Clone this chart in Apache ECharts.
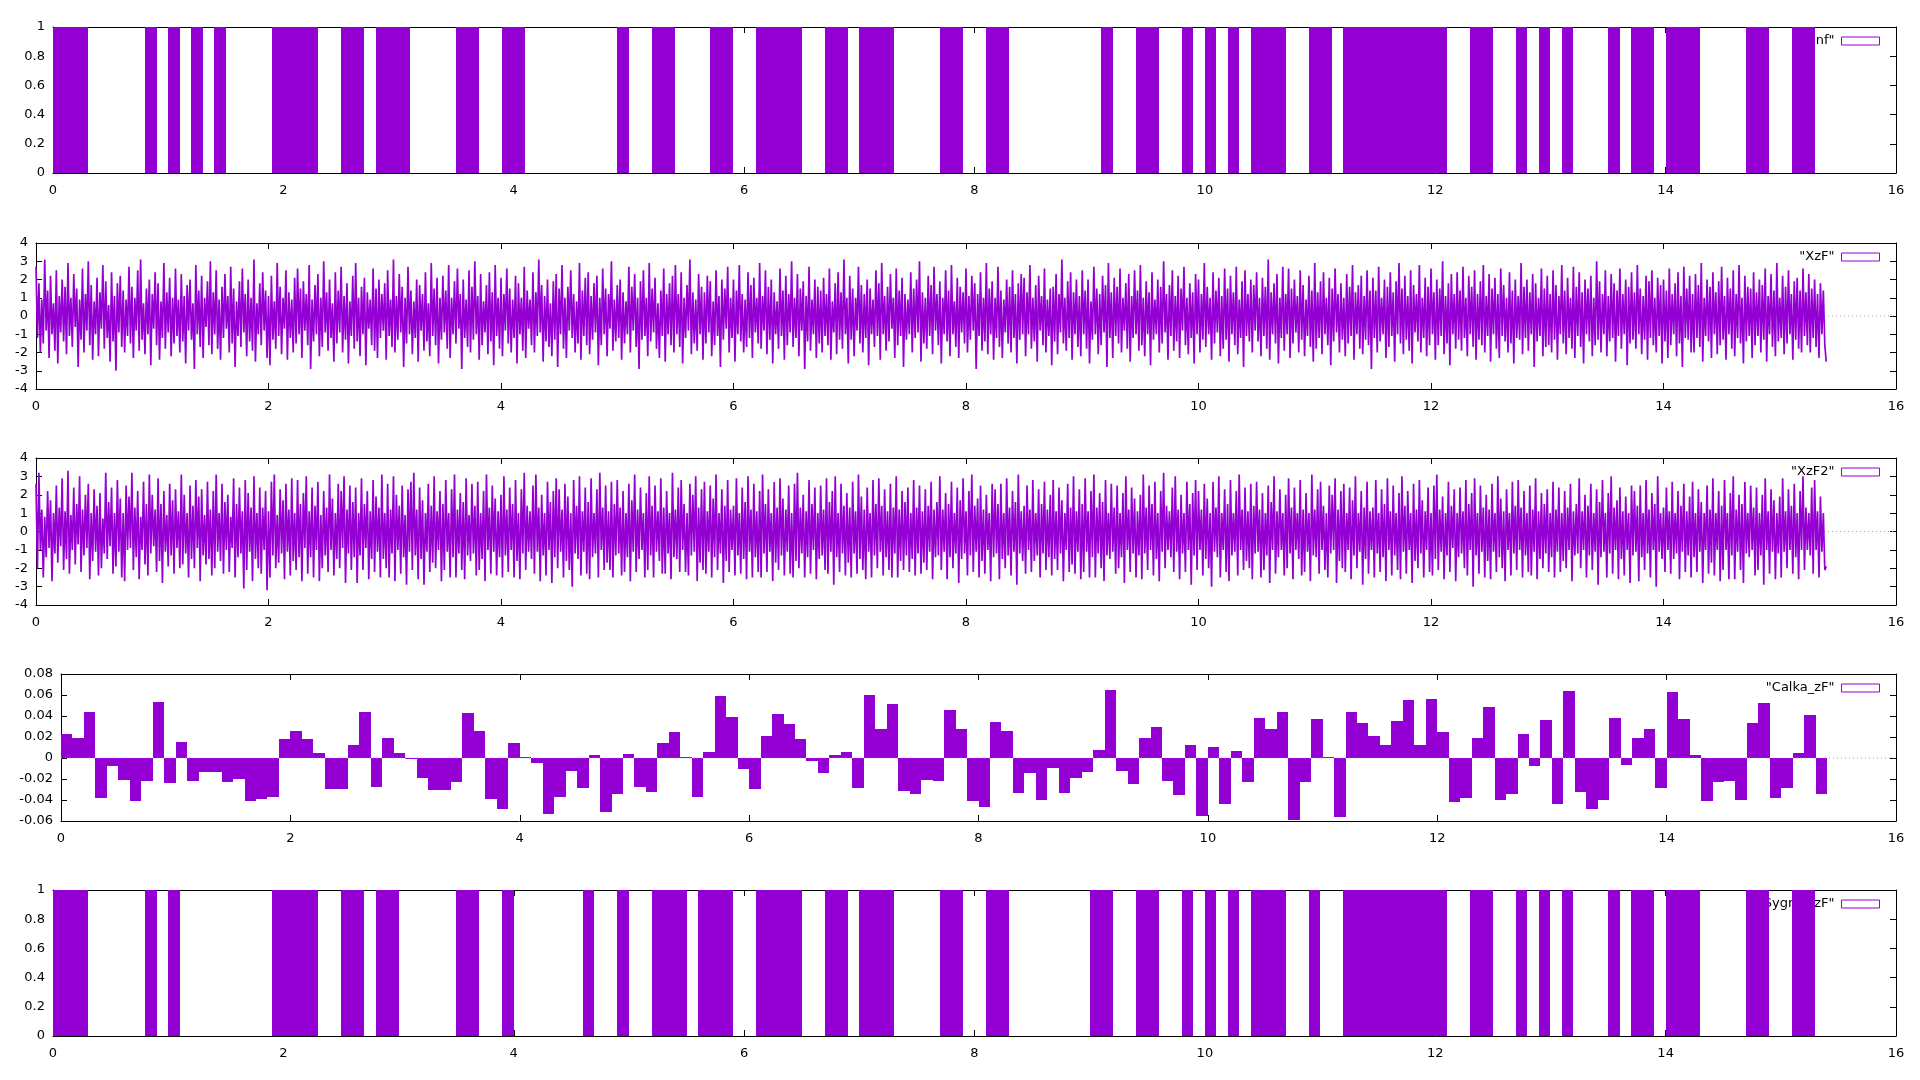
<!DOCTYPE html>
<html><head><meta charset="utf-8">
<script src="https://cdn.jsdelivr.net/npm/echarts@6/dist/echarts.min.js"></script>
<style>html,body{margin:0;padding:0;background:#fff}#c{width:1920px;height:1080px}</style>
</head><body><div id="c"></div>
<script>
// ---------------- data ----------------
const seriesNames = ['"Inf"', '"XzF"', '"XzF2"', '"Calka_zF"', '"Sygnal_zF"'];
const xTickStep = 2, xMin = 0, xMax = 16;

// panel 1: intervals where the input signal is 1 (start, end)
const infOn = [[0,0.3],[0.8,0.9],[1.0,1.1],[1.2,1.3],[1.4,1.5],[1.9,2.3],[2.5,2.7],[2.8,3.1],[3.5,3.7],[3.9,4.1],[4.9,5.0],[5.2,5.4],[5.7,5.9],[6.1,6.5],[6.7,6.9],[7.0,7.3],[7.7,7.9],[8.1,8.3],[9.1,9.2],[9.4,9.6],[9.8,9.9],[10.0,10.1],[10.2,10.3],[10.4,10.7],[10.9,11.1],[11.2,12.1],[12.3,12.5],[12.7,12.8],[12.9,13.0],[13.1,13.2],[13.5,13.6],[13.7,13.9],[14.0,14.3],[14.7,14.9],[15.1,15.3]];

// panel 5: intervals where the output signal is 1
const sygOn = [[0,0.3],[0.8,0.9],[1.0,1.1],[1.9,2.3],[2.5,2.7],[2.8,3.0],[3.5,3.7],[3.9,4.0],[4.6,4.7],[4.9,5.0],[5.2,5.5],[5.6,5.9],[6.1,6.5],[6.7,6.9],[7.0,7.3],[7.7,7.9],[8.1,8.3],[9.0,9.2],[9.4,9.6],[9.8,9.9],[10.0,10.1],[10.2,10.3],[10.4,10.7],[10.9,11.0],[11.2,12.1],[12.3,12.5],[12.7,12.8],[12.9,13.0],[13.1,13.2],[13.5,13.6],[13.7,13.9],[14.0,14.3],[14.7,14.9],[15.1,15.3]];

// panel 4: box values, one per 0.1 bin starting at 0
const BIN = 0.1;
const calka = [
0.0225,0.0187,0.0435,-0.038,-0.008,-0.021,-0.041,-0.022,0.053,-0.024,
0.015,-0.022,-0.0137,-0.0137,-0.023,-0.020,-0.041,-0.039,-0.037,0.0178,
0.026,0.0178,0.0044,-0.0295,-0.0295,0.012,0.044,-0.0276,0.0187,0.0044,
-0.001,-0.019,-0.0305,-0.0305,-0.023,0.0425,0.026,-0.039,-0.0486,0.014,
0.0013,-0.0048,-0.053,-0.037,-0.0127,-0.0286,0.0025,-0.0514,-0.034,0.0035,
-0.0276,-0.032,0.014,0.0244,0.0005,-0.037,0.0054,0.0587,0.0387,-0.0105,
-0.0295,0.0206,0.0416,0.032,0.0178,-0.003,-0.0143,0.0025,0.0054,-0.0286,
0.0597,0.0273,0.051,-0.0314,-0.034,-0.021,-0.022,0.0454,0.0273,-0.041,
-0.0467,0.034,0.026,-0.0333,-0.0143,-0.040,-0.0095,-0.0333,-0.019,-0.0133,
0.0076,0.0644,-0.0124,-0.0248,0.0187,0.0292,-0.022,-0.0352,0.012,-0.0552,
0.0102,-0.0438,0.0063,-0.023,0.0378,0.0273,0.0435,-0.059,-0.023,0.0368,
0.0013,-0.0562,0.0435,0.033,0.0206,0.012,0.035,0.0549,0.012,0.0559,
0.0244,-0.0419,-0.038,0.0187,0.0483,-0.040,-0.034,0.0225,-0.0076,0.0359,
-0.0438,0.0635,-0.032,-0.0486,-0.040,0.0378,-0.0067,0.0187,0.0273,-0.0286,
0.0625,0.0368,0.0025,-0.041,-0.023,-0.022,-0.040,0.033,0.052,-0.038,
-0.0286,0.0044,0.0406,-0.034
];

// panels 2 and 3: sampled signal, evenly spaced from 0 to SAMPLE_END
const SAMPLE_END = 15.4;
const xzf = [
2.7,-1.2,1.8,-2.0,0.9,-1.5,3.1,-0.8,1.4,-2.3,2.2,-1.0,0.7,-1.9,2.5,-2.6,1.1,-0.9,2.0,-1.4,
1.6,-2.1,2.9,-1.1,1.0,-1.7,2.3,-0.6,1.5,-2.8,0.9,-1.3,2.6,-2.0,1.2,-0.8,3.0,-1.6,1.7,-2.4,
0.8,-1.0,2.1,-2.2,1.3,-0.7,2.8,-1.8,1.9,-1.2,0.6,-2.5,2.4,-1.4,1.1,-3.0,1.8,-0.9,2.2,-1.7,
1.4,-2.0,0.9,-1.1,2.7,-1.5,1.6,-2.3,1.0,-0.8,2.5,-1.9,3.1,-1.3,0.7,-2.1,1.5,-1.0,2.0,-2.7,
1.2,-0.7,2.4,-1.6,1.8,-2.4,0.8,-1.2,2.9,-1.8,1.3,-0.9,2.1,-2.2,1.0,-1.5,2.6,-1.1,0.9,-2.0,
2.3,-1.4,1.1,-2.6,1.7,-0.8,2.0,-1.3,0.7,-2.9,2.8,-1.0,1.4,-1.7,2.2,-2.3,1.0,-0.6,1.9,-1.6,
3.0,-2.1,1.3,-1.0,2.5,-1.8,0.9,-2.4,1.6,-1.2,2.3,-0.7,1.1,-2.0,2.7,-1.5,1.5,-2.8,0.8,-1.1,
1.9,-1.7,2.6,-0.9,1.2,-2.2,2.0,-1.4,1.0,-1.9,3.1,-2.5,0.7,-1.0,1.8,-1.6,2.4,-0.8,1.4,-2.3,
1.1,-2.7,2.2,-1.3,0.8,-1.8,2.9,-1.1,1.6,-2.1,1.0,-0.7,2.5,-2.4,1.3,-1.2,0.9,-2.0,2.1,-1.5,
2.6,-1.0,1.5,-2.3,1.9,-0.8,1.2,-1.6,2.8,-2.9,0.9,-1.4,1.7,-1.0,2.3,-2.2,1.0,-1.7,3.0,-0.9,
1.3,-1.9,2.0,-1.2,0.7,-2.5,2.4,-1.5,1.4,-0.9,2.7,-2.0,1.1,-1.3,1.8,-2.6,0.8,-1.1,2.2,-1.8,
2.9,-1.4,1.0,-2.2,1.6,-1.0,2.1,-2.7,1.3,-0.7,0.9,-1.6,2.6,-1.9,1.5,-2.3,2.0,-1.2,1.2,-0.8,
1.8,-2.4,2.5,-1.1,0.9,-1.7,3.1,-2.0,1.1,-1.3,2.3,-0.9,1.6,-2.8,1.0,-1.5,2.7,-1.0,1.4,-2.1,
0.8,-1.2,2.0,-2.5,1.7,-0.8,1.2,-1.9,2.4,-1.4,0.7,-2.2,2.9,-1.1,1.5,-1.6,2.1,-2.6,1.0,-1.3,
2.2,-0.9,1.4,-1.8,2.8,-2.3,1.0,-1.0,1.9,-1.5,2.6,-0.7,1.2,-2.9,2.0,-1.2,0.9,-1.7,2.5,-2.0,
1.6,-1.3,3.0,-1.0,1.1,-2.4,2.3,-1.6,0.8,-0.9,1.7,-2.1,2.4,-1.4,1.3,-2.7,2.8,-1.1,1.0,-1.8,
2.1,-2.2,1.2,-0.8,2.6,-1.5,1.5,-2.0,0.9,-1.2,2.2,-2.6,1.8,-1.0,1.0,-1.9,2.7,-2.3,1.4,-0.7,
0.9,-1.6,2.4,-2.0,1.3,-1.1,3.1,-0.9,1.7,-2.5,1.1,-1.4,2.0,-1.7,0.7,-2.2,1.9,-1.3,2.3,-2.8,
1.5,-1.0,2.8,-1.8,1.0,-2.3,1.6,-0.8,2.5,-1.2,1.2,-2.0,0.8,-1.5,2.9,-2.4,1.4,-1.1,2.1,-1.6,
2.4,-2.1,1.1,-1.3,1.8,-0.9,2.2,-2.7,1.0,-1.6,2.6,-1.0,1.5,-2.2,1.2,-0.7,3.0,-1.9,0.9,-1.4,
1.7,-1.2,2.0,-2.4,1.3,-1.5,0.8,-1.0,2.7,-2.0,1.6,-0.8,2.3,-1.7,1.0,-2.9,1.9,-1.3,2.5,-1.1,
1.0,-2.2,2.9,-1.4,1.5,-0.9,2.1,-1.8,0.7,-2.3,1.4,-1.1,2.6,-2.5,1.2,-1.0,1.8,-1.6,2.2,-2.0,
2.8,-1.0,1.2,-1.7,2.4,-2.6,1.0,-1.2,1.7,-0.8,3.1,-2.1,1.3,-1.5,0.9,-1.9,2.3,-1.0,1.6,-2.4,
1.3,-1.5,2.2,-0.9,1.9,-2.2,0.8,-1.6,2.5,-1.1,1.1,-2.8,2.0,-1.3,1.5,-0.7,2.7,-2.0,1.0,-1.2,
2.0,-2.5,1.4,-1.0,2.8,-1.4,1.2,-2.0,0.9,-1.7,2.4,-1.2,1.7,-2.3,2.1,-0.9,1.0,-1.5,2.9,-1.8,
1.1,-0.8,2.5,-2.1,1.6,-1.3,2.0,-2.6,1.3,-1.0,0.8,-1.8,2.6,-1.1,1.4,-2.4,2.2,-1.6,1.2,-0.9,
3.0,-1.7,1.0,-1.2,2.3,-2.2,1.5,-0.8,1.9,-2.9,1.1,-1.4,2.7,-1.9,0.9,-1.0,2.0,-2.3,1.6,-1.5,
1.4,-2.0,2.1,-1.1,1.2,-1.6,2.6,-2.4,0.8,-0.9,1.8,-2.1,2.4,-1.3,1.3,-1.8,3.1,-1.0,1.0,-2.6,
2.2,-1.3,1.5,-2.2,1.0,-0.8,2.7,-1.5,1.7,-2.0,1.2,-1.2,2.0,-2.7,1.5,-1.0,0.9,-1.7,2.5,-1.1,
1.8,-2.4,2.9,-1.0,1.1,-1.9,1.6,-1.4,2.3,-0.7,1.0,-2.3,2.6,-1.6,1.4,-1.1,2.1,-2.8,1.2,-1.3,
0.9,-1.0,2.4,-2.0,1.5,-1.2,2.0,-0.9,3.0,-2.5,1.3,-1.5,1.0,-1.8,2.2,-1.1,1.7,-2.1,2.7,-0.8,
1.2,-1.6,1.9,-2.6,1.0,-1.0,2.5,-1.4,1.4,-2.2,2.8,-1.0,0.8,-1.7,2.1,-2.3,1.6,-0.9,1.3,-1.5,
2.6,-2.0,1.1,-1.3,2.2,-0.8,1.8,-2.9,1.2,-1.1,2.4,-1.9,1.0,-1.4,2.9,-2.1,1.5,-1.0,1.9,-2.4,
1.0,-1.2,2.7,-1.7,1.4,-2.3,0.9,-0.9,2.0,-1.5,1.6,-2.0,2.5,-1.2,1.2,-2.6,1.8,-1.3,2.3,-1.0,
2.1,-2.2,1.3,-1.0,2.8,-1.8,1.0,-1.4,1.7,-2.5,2.2,-0.8,1.1,-1.6,2.6,-2.0,0.9,-1.1,1.5,-2.7,
1.6,-1.4,2.3,-2.1,1.2,-0.9,3.1,-1.5,1.0,-1.9,1.9,-1.2,2.4,-2.4,1.3,-1.0,2.0,-1.7,1.1,-2.2,
2.5,-1.0,1.4,-1.8,2.0,-2.6,0.8,-1.3,2.7,-1.0,1.5,-2.1,1.2,-1.6,2.2,-0.9,1.7,-2.8,2.9,-1.2,
1.3,-2.3,2.1,-1.1,1.6,-1.5,2.6,-2.0,1.0,-0.8,1.8,-1.8,2.3,-2.5,1.1,-1.2,2.5,-1.0,1.4,-1.9,
2.8,-1.6,1.0,-2.2,1.9,-1.0,1.3,-2.7,2.4,-1.3,0.9,-1.0,2.0,-2.0,1.6,-1.5,3.0,-0.9,1.2,-2.4,
1.7,-1.1,2.5,-1.9,1.1,-1.4,2.2,-2.3,1.5,-0.8,2.7,-1.6,1.0,-2.1,1.8,-1.2,1.3,-2.6,2.3,-1.0,
2.0,-2.0,1.2,-1.3,2.9,-1.7,1.6,-1.0,1.0,-2.4,2.4,-1.5,1.4,-0.9,2.1,-2.2,1.1,-1.8,2.6,-1.3,
1.5,-2.5,2.2,-1.0,1.3,-1.6,2.7,-2.1,0.9,-1.2,1.9,-2.8,2.5,-1.1,1.2,-1.4,2.0,-2.0,1.7,-0.8,
2.4,-1.4,1.0,-2.2,2.1,-1.1,1.6,-1.8,3.1,-2.4,1.3,-1.0,1.8,-1.5,2.3,-2.6,1.0,-1.2,2.7,-1.9,
1.2,-1.0,2.6,-2.3,1.5,-1.5,2.0,-0.9,1.1,-2.0,2.5,-1.3,1.7,-2.2,0.9,-1.1,2.2,-1.7,1.4,-2.5,
2.9,-1.8,1.3,-1.2,1.9,-2.1,2.4,-1.0,1.0,-1.6,2.1,-2.7,1.5,-1.4,2.6,-0.9,1.2,-2.0,1.8,-1.3,
1.0,-2.2,2.3,-1.5,1.6,-1.1,2.8,-2.4,1.3,-1.0,1.7,-1.8,2.2,-2.1,1.1,-1.3,2.5,-1.6,1.4,-2.9,
2.1,-1.2,1.4,-2.0,2.7,-1.4,1.0,-1.0,2.0,-2.3,1.6,-1.7,2.4,-1.1,1.3,-2.5,1.9,-1.0,2.9,-1.5,
1.5,-2.1,2.2,-1.3,1.1,-1.9,2.5,-2.6,1.7,-0.9,1.2,-1.4,2.8,-2.0,1.0,-1.2,2.1,-2.2,1.6,-1.6,
2.6,-1.0,1.3,-2.4,2.0,-1.6,1.5,-1.1,3.0,-2.1,1.1,-1.5,1.8,-2.7,2.3,-1.0,1.2,-1.8,2.4,-1.3,
1.4,-1.9,2.7,-1.2,1.0,-2.2,2.2,-1.0,1.6,-1.7,2.5,-2.4,1.2,-1.3,1.9,-1.6,2.8,-2.0,1.1,-1.1,
2.3,-2.5,1.5,-1.0,2.1,-1.8,1.2,-2.3,2.6,-1.1,1.7,-1.4,1.0,-2.0,2.4,-1.5,1.4,-2.6,2.0,-1.2,
1.1,-1.3,2.9,-2.1,1.6,-1.2,2.0,-1.9,1.3,-1.0,2.3,-2.8,1.8,-1.4,1.0,-1.1,2.6,-2.2,1.5,-1.7,
2.2,-1.6,1.2,-2.0,2.5,-1.3,1.7,-2.4,1.1,-1.0,2.8,-1.5,1.4,-2.1,2.1,-1.2,1.0,-1.8,2.7,-2.3,
1.6,-1.1,2.4,-1.7,1.3,-2.6,2.0,-1.0,1.5,-1.4,2.2,-2.2,1.0,-1.6,3.0,-1.3,1.9,-2.0,1.2,-1.0,
2.5,-2.2,1.1,-1.4,2.3,-1.2,1.8,-2.5,1.4,-1.1,2.6,-1.8,1.2,-1.0,2.0,-2.7,1.6,-1.5,2.4,-1.3,
1.3,-1.8,2.8,-1.0,1.5,-2.1,1.1,-1.3,2.2,-2.4,1.9,-1.2,2.5,-1.6,1.0,-2.0,2.1,-1.1,1.7,-2.6,
2.0,-1.4,1.4,-2.3,2.6,-1.6,1.2,-1.0,1.8,-2.2,2.4,-1.5,1.1,-2.8,2.7,-1.2,1.5,-1.3,2.2,-2.0,
1.2,-2.0,2.3,-1.2,1.7,-1.7,2.9,-2.5,1.0,-1.1,2.0,-1.4,1.6,-2.3,2.4,-1.0,1.3,-2.1,1.9,-1.6,
2.7,-1.3,1.1,-2.4,2.1,-1.0,1.5,-1.8,2.5,-2.2,1.2,-1.2,2.8,-1.5,1.0,-2.6,2.2,-1.4,1.6,-1.1,
1.5,-2.3,2.4,-1.6,1.3,-1.1,2.0,-2.0,1.7,-1.3,2.6,-2.5,1.1,-1.0,2.3,-1.7,1.4,-2.2,2.9,-1.4,
1.0,-1.2,2.2,-2.1,1.6,-1.5,2.5,-1.0,1.2,-2.4,1.9,-1.3,2.1,-1.8,1.4,-2.0,2.6,-1.1,1.3,-1.6,
2.3,-2.0,1.5,-1.2,2.0,-1.7,1.2,-2.3,1.8,-1.0,1.4,-1.6,-2.5
];
const xzf2 = [
2.6,-2.0,3.2,-1.0,1.2,-2.5,0.8,-1.4,2.2,-0.9,1.7,-2.7,1.0,-1.2,2.5,-1.7,1.3,-0.8,2.9,-2.1,
1.1,-1.5,3.3,-2.3,0.9,-1.0,2.4,-1.8,1.5,-0.7,3.0,-2.2,1.2,-1.3,2.0,-0.9,2.6,-2.6,1.0,-1.6,
2.3,-1.1,1.4,-2.4,2.1,-2.0,0.7,-1.2,3.2,-1.5,1.6,-0.8,2.4,-2.3,1.0,-1.9,2.8,-1.1,1.8,-2.5,
1.0,-2.7,2.5,-1.0,1.9,-0.9,3.2,-2.1,1.3,-1.4,2.2,-2.6,0.8,-1.0,2.7,-1.8,1.5,-2.4,3.1,-1.2,
2.0,-0.8,1.2,-2.2,2.9,-1.6,1.5,-2.8,2.2,-1.1,0.9,-1.9,2.6,-1.3,1.7,-2.3,2.3,-0.9,1.1,-2.0,
3.1,-1.8,2.0,-1.2,1.0,-2.5,2.5,-1.5,1.4,-2.0,2.8,-0.9,1.9,-2.7,2.3,-1.3,0.9,-1.8,2.7,-1.5,
1.2,-2.4,2.2,-2.0,3.1,-1.1,1.0,-1.6,2.6,-2.3,1.6,-1.0,2.0,-2.2,0.8,-0.9,2.9,-2.5,1.5,-1.4,
2.4,-1.2,1.1,-3.1,2.8,-2.1,2.1,-1.1,1.3,-2.7,3.0,-1.5,1.0,-2.0,2.4,-2.3,1.3,-1.0,2.2,-3.2,
1.1,-2.5,2.7,-1.3,3.1,-2.0,0.9,-1.7,2.3,-1.2,1.7,-2.6,2.6,-1.1,1.2,-2.4,2.9,-1.6,1.0,-2.1,
2.8,-1.4,1.5,-2.7,2.1,-0.9,3.0,-2.3,1.1,-1.4,2.4,-2.5,1.4,-1.0,2.7,-2.7,0.9,-2.0,2.2,-1.3,
1.3,-2.2,3.1,-1.0,1.8,-2.4,1.0,-1.5,2.6,-2.0,2.2,-0.9,3.0,-2.8,1.2,-1.2,2.5,-2.1,1.6,-1.4,
2.4,-2.8,1.0,-1.3,2.9,-2.1,1.5,-0.9,2.2,-2.6,1.1,-1.5,2.8,-2.2,1.9,-1.1,1.3,-2.5,3.1,-1.5,
1.0,-2.0,2.6,-2.5,1.2,-1.2,3.0,-2.7,2.0,-1.0,1.4,-2.3,2.5,-1.4,0.9,-2.9,2.3,-1.1,2.7,-2.1,
3.2,-1.3,1.2,-2.6,2.4,-1.5,1.7,-2.9,1.0,-1.1,2.6,-2.2,1.4,-1.7,3.0,-2.0,1.1,-1.0,2.2,-2.7,
1.5,-2.1,2.8,-1.1,1.0,-2.5,2.3,-1.4,3.1,-2.5,1.2,-1.2,2.1,-2.1,1.6,-2.6,2.9,-1.3,0.9,-1.6,
2.6,-1.2,1.4,-2.4,2.7,-2.1,1.0,-1.5,2.2,-2.7,3.1,-1.0,1.3,-2.3,2.5,-1.1,1.8,-2.4,1.1,-1.4,
2.0,-2.5,3.0,-1.3,1.2,-2.2,2.4,-1.0,1.5,-2.5,2.8,-1.6,1.0,-2.6,2.3,-1.2,3.2,-2.1,1.4,-1.1,
1.1,-1.5,2.5,-2.3,3.1,-1.1,1.3,-2.7,2.0,-1.3,1.0,-2.4,2.7,-1.0,1.6,-2.8,2.2,-1.4,2.9,-2.0,
2.3,-1.1,1.2,-2.5,2.6,-1.6,1.9,-2.1,1.0,-3.0,2.8,-1.2,1.4,-1.5,3.0,-2.4,1.1,-1.1,2.4,-2.3,
1.6,-2.6,2.9,-1.4,1.0,-1.2,2.3,-2.5,3.2,-1.0,1.3,-2.1,2.5,-1.7,1.1,-2.1,2.7,-2.5,1.5,-1.3,
2.8,-1.2,1.3,-2.4,2.2,-2.2,1.0,-1.4,2.6,-2.7,1.7,-1.1,3.1,-2.2,1.2,-1.5,2.4,-1.0,1.0,-2.5,
2.1,-2.1,3.0,-1.3,1.4,-2.5,2.5,-1.1,1.1,-1.6,2.9,-2.3,1.3,-2.3,2.2,-1.2,1.0,-2.6,3.2,-1.4,
1.2,-1.5,2.4,-2.2,2.8,-1.0,1.5,-2.2,1.0,-2.4,2.6,-1.3,2.0,-1.1,3.0,-2.7,1.3,-1.7,2.3,-2.1,
2.7,-2.3,1.1,-1.1,2.5,-2.5,1.8,-1.4,3.1,-2.1,1.0,-1.2,2.3,-2.8,1.4,-1.6,2.8,-2.2,1.2,-1.0,
1.4,-2.4,2.9,-1.3,1.0,-2.3,2.4,-1.5,1.6,-2.6,3.0,-1.1,1.2,-2.5,2.6,-1.4,1.1,-2.2,2.2,-2.5,
3.1,-1.2,1.5,-2.2,2.3,-1.1,1.0,-2.7,2.7,-1.7,1.3,-2.1,2.9,-1.3,1.8,-2.4,1.2,-1.1,2.5,-2.3,
1.0,-2.5,2.6,-1.6,3.2,-2.0,1.3,-1.2,2.0,-2.5,1.1,-1.4,2.8,-2.3,1.5,-1.0,2.4,-2.6,1.0,-1.5,
2.5,-1.3,1.2,-2.1,2.9,-2.3,1.6,-1.1,2.2,-2.9,3.0,-1.4,1.0,-2.2,2.6,-1.2,1.4,-2.4,2.1,-1.7,
1.3,-2.5,2.7,-1.2,1.1,-2.3,3.1,-1.5,1.9,-2.1,1.2,-2.6,2.4,-1.1,1.0,-2.5,2.8,-1.3,1.5,-2.0,
2.9,-1.1,1.4,-2.4,2.3,-1.4,1.1,-2.1,2.6,-2.5,1.3,-1.2,3.0,-2.5,1.2,-1.6,2.2,-2.1,1.6,-1.3,
2.4,-2.2,1.0,-1.5,2.8,-2.4,1.3,-1.2,2.5,-2.3,1.1,-1.7,2.3,-2.1,1.4,-1.1,2.7,-2.6,1.2,-1.4,
1.6,-1.3,3.0,-2.1,1.2,-1.1,2.1,-2.6,1.5,-1.4,2.7,-2.0,1.0,-1.2,2.4,-2.8,1.7,-1.5,2.9,-1.2,
1.1,-2.4,2.2,-1.3,3.1,-2.2,1.4,-1.1,1.8,-2.5,2.5,-1.6,1.2,-2.3,2.0,-1.0,1.0,-2.7,2.6,-1.4,
2.3,-1.2,1.5,-2.6,2.6,-1.5,1.0,-2.0,2.9,-1.3,1.3,-2.4,2.2,-1.1,1.6,-2.9,3.1,-1.2,1.1,-1.6,
1.4,-2.3,2.5,-1.0,1.2,-2.2,2.8,-1.6,1.0,-1.3,2.3,-2.5,1.5,-1.2,2.7,-2.1,1.2,-1.4,2.0,-2.4,
2.8,-1.5,1.1,-2.1,2.4,-1.2,1.7,-2.7,1.0,-1.0,2.6,-2.2,1.3,-1.8,3.0,-2.3,1.1,-1.1,2.3,-2.6,
1.5,-2.2,2.9,-1.1,1.1,-2.5,2.2,-1.4,3.1,-2.5,1.3,-1.2,2.1,-2.0,1.6,-2.7,2.8,-1.3,1.0,-1.5,
2.6,-1.1,1.3,-2.3,2.5,-2.0,1.0,-1.4,2.1,-2.8,3.0,-1.0,1.2,-2.2,2.4,-1.2,1.8,-2.5,1.1,-1.3,
2.0,-2.6,3.1,-1.2,1.3,-2.1,2.5,-1.0,1.5,-2.4,2.7,-1.5,1.0,-2.7,2.2,-1.1,3.2,-2.0,1.4,-1.0,
1.1,-1.4,2.4,-2.2,3.0,-1.1,1.2,-2.6,2.0,-1.2,1.0,-2.2,2.7,-1.0,1.5,-2.9,2.1,-1.3,2.8,-2.1,
2.2,-1.0,1.2,-2.4,2.6,-1.5,1.8,-2.0,1.0,-3.0,2.7,-1.1,1.3,-1.4,3.0,-2.5,1.0,-1.0,2.3,-2.2,
1.5,-2.7,2.8,-1.3,1.0,-1.1,2.2,-2.4,3.1,-1.0,1.2,-2.1,2.4,-1.6,1.1,-2.0,2.6,-2.6,1.4,-1.2,
2.7,-1.1,1.2,-2.5,2.1,-2.1,1.0,-1.3,2.5,-2.8,1.6,-1.0,3.0,-2.3,1.1,-1.4,2.3,-1.0,1.0,-2.4,
2.0,-2.0,2.9,-1.2,1.3,-2.6,2.4,-1.0,1.0,-1.5,2.8,-2.4,1.2,-2.2,2.1,-1.1,1.0,-2.7,3.1,-1.3,
1.2,-1.4,2.3,-2.3,2.7,-1.0,1.4,-2.1,1.0,-2.5,2.5,-1.2,2.0,-1.0,2.9,-2.8,1.2,-1.6,2.2,-2.0,
2.6,-2.2,1.0,-1.0,2.4,-2.6,1.7,-1.3,3.0,-2.0,1.0,-1.1,2.2,-2.9,1.3,-1.5,2.7,-2.3,1.1,-1.0,
1.3,-2.5,2.8,-1.2,1.0,-2.2,2.3,-1.4,1.5,-2.7,2.9,-1.0,1.1,-2.4,2.5,-1.3,1.0,-2.1,2.1,-2.6,
3.0,-1.1,1.4,-2.3,2.2,-1.0,1.0,-2.8,2.6,-1.6,1.2,-2.0,2.8,-1.2,1.7,-2.5,1.1,-1.0,2.4,-2.2,
1.0,-2.4,2.5,-1.5,3.1,-2.1,1.2,-1.1,1.9,-2.6,1.0,-1.3,2.7,-2.2,1.4,-0.9,2.3,-2.7,1.0,-1.4,
2.4,-1.2,1.1,-2.0,2.8,-2.4,1.5,-1.0,2.1,-3.0,2.9,-1.3,1.0,-2.3,2.5,-1.1,1.3,-2.5,2.0,-1.6,
1.2,-2.6,2.6,-1.1,1.0,-2.2,3.0,-1.4,1.8,-2.0,1.1,-2.7,2.3,-1.0,1.0,-2.4,2.7,-1.2,1.4,-2.1,
2.8,-1.0,1.3,-2.5,2.2,-1.3,1.0,-2.2,2.5,-2.4,1.2,-1.1,2.9,-2.6,1.1,-1.5,2.1,-2.0,1.5,-1.2,
2.3,-2.2,1.0,-1.4,2.7,-2.5,1.2,-1.1,2.4,-2.2,1.0,-1.6,2.2,-2.0,1.3,-1.0,2.6,-2.7,1.1,-1.3,
1.5,-1.2,2.9,-2.0,1.1,-1.0,2.0,-2.5,1.4,-1.3,2.6,-2.1,1.0,-1.1,2.3,-2.9,1.6,-1.4,2.8,-1.1,
1.0,-2.5,2.1,-1.2,3.0,-2.3,1.3,-1.0,1.7,-2.6,2.4,-1.5,1.1,-2.4,1.9,-1.0,1.0,-2.8,2.5,-1.3,
2.2,-1.1,1.4,-2.7,2.5,-1.4,1.0,-2.1,2.8,-1.2,1.2,-2.5,2.1,-1.0,1.5,-3.0,3.0,-1.1,1.0,-1.5,
1.3,-2.2,2.4,-1.0,1.1,-2.3,2.7,-1.5,1.0,-1.2,2.2,-2.6,1.4,-1.1,2.6,-2.2,1.1,-1.3,1.9,-2.5,
2.7,-1.4,1.0,-2.2,2.3,-1.1,1.6,-2.8,1.0,-1.0,2.5,-2.3,1.2,-1.7,2.9,-2.4,1.0,-1.0,2.2,-2.7,
1.4,-2.1,2.8,-1.0,1.0,-2.6,2.1,-1.3,3.0,-2.6,1.2,-1.1,2.0,-2.1,1.5,-2.8,2.7,-1.2,1.0,-1.4,
2.5,-1.0,1.3,-2.4,2.4,-2.1,1.0,-1.3,2.0,-2.9,2.9,-1.0,1.1,-2.3,2.3,-1.1,1.7,-2.6,1.0,-1.2,
1.9,-2.5,2.9,-1.1,1.1,-2.0,2.3,-1.0,1.4,-2.3,2.6,-1.4,1.0,-2.6,2.2,-1.0,3.0,-2.1,1.3,-1.0,
1.0,-1.3,2.4,-2.3,2.8,-1.0,1.1,-2.5,1.9,-1.1,1.0,-2.1,-1.9
];

// ---------------- layout & style ----------------
const FONT = 'DejaVu Sans';
const PURPLE = '#9400D3';
const grids = [
  {left: 53, top: 27, width: 1843, height: 146},
  {left: 36, top: 243, width: 1860, height: 146},
  {left: 36, top: 458, width: 1860, height: 147},
  {left: 61, top: 674, width: 1835, height: 147},
  {left: 53, top: 890, width: 1843, height: 146}
];
const yRanges = [[0, 1, 0.2], [-4, 4, 1], [-4, 4, 1], [-0.06, 0.08, 0.02], [0, 1, 0.2]];

const fmt = v => String(+(+v).toFixed(4));
const axisLine = {show: true, onZero: false, lineStyle: {color: '#000', width: 1}};
const axisTick = {show: true, inside: true, length: 6, lineStyle: {color: '#000', width: 1}};
const labelStyle = {color: '#000', fontFamily: FONT, fontSize: 13};

const xAxes = [], yAxes = [];
grids.forEach((g, i) => {
  xAxes.push({gridIndex: i, type: 'value', position: 'bottom', min: xMin, max: xMax, interval: xTickStep,
    axisLine, axisTick, splitLine: {show: false},
    axisLabel: Object.assign({margin: 11, showMinLabel: true, showMaxLabel: true, formatter: fmt}, labelStyle)});
  xAxes.push({gridIndex: i, type: 'value', position: 'top', min: xMin, max: xMax, interval: xTickStep,
    axisLine, axisTick, splitLine: {show: false}, axisLabel: {show: false}});
  const r = yRanges[i];
  yAxes.push({gridIndex: i, type: 'value', position: 'left', min: r[0], max: r[1], interval: r[2],
    axisLine, axisTick, splitLine: {show: false},
    axisLabel: Object.assign({margin: 8, showMinLabel: true, showMaxLabel: true, formatter: fmt}, labelStyle)});
  yAxes.push({gridIndex: i, type: 'value', position: 'right', min: r[0], max: r[1], interval: r[2],
    axisLine, axisTick, splitLine: {show: false}, axisLabel: {show: false}});
});

function intervalRender(params, api) {
  const a = api.coord([api.value(0), api.value(2)]);
  const b = api.coord([api.value(1), 0]);
  const x0 = Math.round(a[0]), x1 = Math.round(b[0]);
  const y0 = Math.round(a[1]), y1 = Math.round(b[1]);
  return {type: 'rect', shape: {x: x0, y: y0, width: x1 - x0, height: y1 - y0}, style: {fill: PURPLE}};
}
function boxRender(params, api) {
  const x = api.value(0), v = api.value(1);
  const a = api.coord([x, v]);
  const b = api.coord([x + BIN, 0]);
  const x0 = Math.round(a[0]), x1 = Math.round(b[0]);
  const ya = Math.round(a[1]), yb = Math.round(b[1]);
  return {type: 'rect', shape: {x: x0, y: Math.min(ya, yb), width: x1 - x0, height: Math.abs(yb - ya)}, style: {fill: PURPLE}};
}
function zeroLine(idx, z) {
  return {type: 'line', xAxisIndex: 2 * idx, yAxisIndex: 2 * idx, data: [[xMin, 0], [xMax, 0]],
    symbol: 'none', silent: true, z: z, lineStyle: {color: '#a0a0a0', width: 1, type: [1, 3]}};
}
const samples = arr => arr.map((v, i) => [i * SAMPLE_END / (arr.length - 1), v]);

const series = [
  {name: seriesNames[0], type: 'custom', xAxisIndex: 0, yAxisIndex: 0, z: 2, clip: true,
    itemStyle: {color: PURPLE}, renderItem: intervalRender, encode: {x: [0, 1], y: 2},
    data: infOn.map(p => [p[0], p[1], 1])},
  zeroLine(1, 1),
  {name: seriesNames[1], type: 'line', xAxisIndex: 2, yAxisIndex: 2, z: 2, symbol: 'none', silent: true,
    itemStyle: {color: PURPLE}, lineStyle: {color: PURPLE, width: 1.7, join: 'bevel'}, data: samples(xzf)},
  zeroLine(2, 1),
  {name: seriesNames[2], type: 'line', xAxisIndex: 4, yAxisIndex: 4, z: 2, symbol: 'none', silent: true,
    itemStyle: {color: PURPLE}, lineStyle: {color: PURPLE, width: 1.7, join: 'bevel'}, data: samples(xzf2)},
  {name: seriesNames[3], type: 'custom', xAxisIndex: 6, yAxisIndex: 6, z: 2, clip: true,
    itemStyle: {color: PURPLE}, renderItem: boxRender, encode: {x: 0, y: 1},
    data: calka.map((v, i) => [i * BIN, v])},
  zeroLine(3, 3),
  {name: seriesNames[4], type: 'custom', xAxisIndex: 8, yAxisIndex: 8, z: 2, clip: true,
    itemStyle: {color: PURPLE}, renderItem: intervalRender, encode: {x: [0, 1], y: 2},
    data: sygOn.map(p => [p[0], p[1], 1])}
];

const legends = seriesNames.map((n, i) => ({
  data: [n], right: 40, top: grids[i].top + 6, padding: 0, orient: 'horizontal', align: 'right',
  icon: 'rect', itemWidth: 38, itemHeight: 8, selectedMode: false, z: (i === 0 || i === 4) ? 1 : 5,
  itemStyle: {color: '#fff', borderColor: PURPLE, borderWidth: 1},
  lineStyle: {width: 0},
  textStyle: {color: '#000', fontFamily: FONT, fontSize: 13, lineHeight: 16, padding: [0, 2, 0, 0]}
}));

const chart = echarts.init(document.getElementById('c'), null, {renderer: 'canvas'});
chart.setOption({
  animation: false,
  backgroundColor: '#fff',
  grid: grids.map(g => Object.assign({containLabel: false}, g)),
  xAxis: xAxes,
  yAxis: yAxes,
  legend: legends,
  series: series
});
</script></body></html>
